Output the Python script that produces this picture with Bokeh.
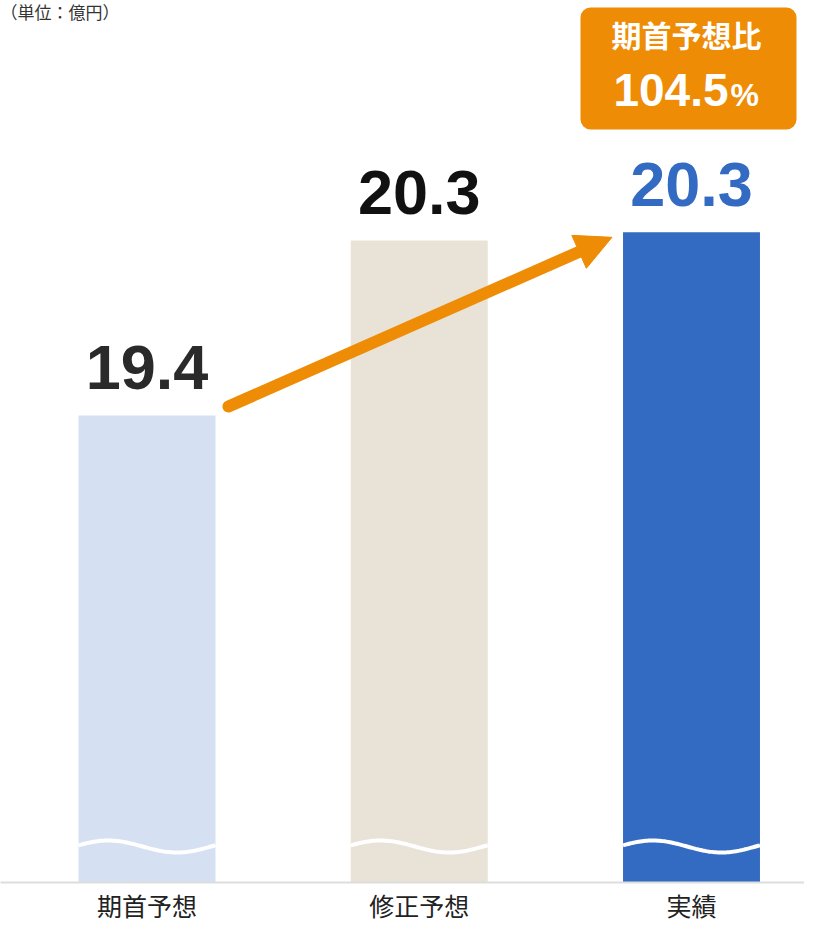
import numpy as np
from bokeh.plotting import figure
from bokeh.models import Range1d, FixedTicker, Arrow, NormalHead, ColumnDataSource
from bokeh.core.properties import value
from bokeh.embed import file_html
from bokeh.resources import INLINE

# ---- data ----
categories = ["期首予想", "修正予想", "実績"]
values = [19.4, 20.26, 20.30]
value_labels = ["19.4", "20.3", "20.3"]
bar_colors = ["#D5E1F3", "#E9E2D6", "#336AC2"]
label_colors = ["#2A2A2A", "#111111", "#336AC2"]
badge_title = "期首予想比"
badge_value = "104.5"
badge_unit = "%"
unit_note = "（単位：億円）"

ORANGE = "#EE8C05"
xs_pos = list(range(len(categories)))
bar_w = 0.503
FRAME_H = 882
px_y = 1 / 203.5                    # data units per pixel (y)
px_x = 1 / 272.25                   # data units per pixel (x)
y0 = 17.105
y1 = y0 + FRAME_H * px_y
x0 = -146.5 * px_x
x1 = x0 + 804 * px_x

p = figure(frame_width=804, frame_height=FRAME_H, output_backend="svg",
           toolbar_location=None, x_range=Range1d(x0, x1),
           y_range=Range1d(y0, y1), y_axis_location=None, min_border=0,
           min_border_bottom=40, outline_line_color=None,
           background_fill_color="white", border_fill_color="white")
p.grid.visible = False

ax = p.xaxis[0]
ax.ticker = FixedTicker(ticks=xs_pos)
ax.major_label_overrides = {i: c for i, c in zip(xs_pos, categories)}
ax.major_tick_line_color = None
ax.minor_tick_line_color = None
ax.major_tick_out = 0
ax.major_tick_in = 0
ax.axis_line_color = "#DDDDDD"
ax.axis_line_width = 2
ax.major_label_text_font = "Noto Sans CJK JP"
ax.major_label_text_font_size = "25px"
ax.major_label_text_color = "#222222"
ax.major_label_standoff = 4

src = ColumnDataSource(dict(x=xs_pos, top=values, lab=value_labels,
                            color=bar_colors, lcolor=label_colors))
p.vbar(x="x", top="top", bottom=y0, width=bar_w, fill_color="color",
       line_color=None, source=src)

# wavy break marks
t = np.linspace(0, 1, 80)
wave_base = y0 + 36 * px_y
amp = 6 * px_y
wx = [list(i - bar_w / 2 + t * bar_w) for i in xs_pos]
wy = [list(wave_base + amp * np.sin(2 * np.pi * t + 0.2)) for _ in xs_pos]
p.multi_line(wx, wy, line_color="white", line_width=4)

# value labels
p.text(x="x", y="top", text="lab", source=src, text_align="center",
       text_baseline="alphabetic", y_offset=-48,
       text_font=value("Liberation Sans"), text_font_style="bold",
       text_font_size="63px", text_color="lcolor")

# arrow: shaft + head
ax_s = xs_pos[0] + bar_w / 2 + 13 * px_x
ay_s = values[0] + 9 * px_y
ax_e = xs_pos[2] - bar_w / 2 - 11 * px_x
ay_e = values[2] - 5 * px_y
dxp = (ax_e - ax_s) / px_x
dyp = (ay_e - ay_s) / px_y
L = (dxp ** 2 + dyp ** 2) ** 0.5
sx_e = ax_e - 20 * dxp / L * px_x
sy_e = ay_e - 20 * dyp / L * px_y
p.segment(x0=[ax_s], y0=[ay_s], x1=[sx_e], y1=[sy_e], line_color=ORANGE,
          line_width=12, line_cap="round")
arrow = Arrow(end=NormalHead(size=36, fill_color=ORANGE, line_color=ORANGE,
                             line_width=1),
              x_start=ax_e - 30 * dxp / L * px_x,
              y_start=ay_e - 30 * dyp / L * px_y,
              x_end=ax_e, y_end=ay_e, line_alpha=0)
p.add_layout(arrow)

# badge
bx = xs_pos[2] - 3 * px_x
p.quad(left=[bx - 108 * px_x], right=[bx + 108 * px_x], top=[y1 - 7 * px_y],
       bottom=[y1 - 129 * px_y], fill_color=ORANGE, line_color=None,
       border_radius=10)
p.text(x=[bx], y=[y1], text=[badge_title], text_align="center",
       text_baseline="middle", y_offset=33, x_offset=-2,
       text_font=value("Noto Sans CJK JP"), text_font_style="bold",
       text_font_size="30px", text_color="white")
p.text(x=[bx], y=[y1], text=[badge_value], text_align="right",
       text_baseline="alphabetic", y_offset=89, x_offset=40,
       text_font=value("Liberation Sans"), text_font_style="bold",
       text_font_size="46px", text_color="white")
p.text(x=[bx], y=[y1], text=[badge_unit], text_align="left",
       text_baseline="alphabetic", y_offset=94, x_offset=42,
       text_font=value("Liberation Sans"), text_font_style="bold",
       text_font_size="32px", text_color="white")

# unit note (top-left)
p.text(x=[x0], y=[y1], text=[unit_note], text_align="left",
       text_baseline="top", x_offset=0, y_offset=-2,
       text_font=value("Noto Sans CJK JP"), text_font_size="17px",
       text_color="#333333")

open("out.html", "w").write(file_html(p, INLINE))
